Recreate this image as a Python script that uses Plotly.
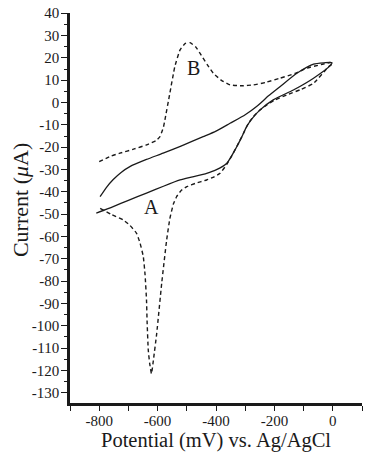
import plotly.graph_objects as go

# Solid CV loop (A): upper branch left->right, then lower branch right->left
solid_x = [-797, -775, -752, -725, -695, -638, -581, -520, -444, -400, -352, -300, -261, -220, -181, -123, -66, -30, -3,
           -9, -66, -135, -204, -249, -275, -295, -312, -329, -363, -400, -432, -480, -523, -580, -638, -700, -752, -810]
solid_y = [-42.2, -38.0, -34.5, -31.3, -28.7, -25.5, -22.7, -19.5, -15.3, -12.8, -9.3, -5.5, -1.8, 3.0, 7.1, 13.1, 17.2, 17.8, 17.9,
           16.5, 10.9, 5.6, 1.2, -3.3, -7.0, -10.8, -15.5, -19.8, -27.2, -30.2, -31.7, -33.3, -34.7, -37.5, -40.6, -43.8, -46.6, -49.5]

# Dashed CV loop (B)
dash_x = [-800, -760, -729, -680, -638, -605, -592, -580, -575, -558, -541, -523, -505, -489, -470, -455, -430, -409,
          -380, -352, -310, -272, -230, -181, -130, -89, -40, -9, 0,
          -15, -66, -110, -158, -200, -226, -250, -272, -290, -306, -322, -341, -362, -386, -410, -432, -470, -500,
          -520, -535, -546, -558, -569, -586, -603, -614, -621, -627, -632, -636, -638, -643, -649, -660, -672, -695,
          -718, -760, -797]
dash_y = [-26.5, -24.0, -22.7, -20.8, -19.0, -17.0, -15.3, -11.0, -7.8, 4.2, 16.1, 23.6, 26.5, 26.8, 25.0, 22.1, 17.0, 13.1,
          9.8, 7.9, 7.5, 7.9, 9.0, 10.9, 13.0, 15.4, 17.0, 17.9, 17.5,
          16.0, 8.6, 5.8, 3.4, 1.0, -1.1, -3.4, -6.3, -9.5, -13.8, -18.0, -22.7, -27.5, -31.7, -33.5, -34.7, -36.2, -37.7,
          -39.5, -42.2, -45.5, -52.0, -61.6, -81.0, -103.4, -115.0, -121.5, -117.0, -110.8, -98.0, -88.4, -77.0, -69.0, -63.0, -58.6, -55.0,
          -52.6, -50.0, -47.4]

peak_labels = ["A", "B"]
peak_label_x = [-620, -478]
peak_label_y = [-46.6, 15.4]

x_tick_vals = [-800, -600, -400, -200, 0]
x_tick_text = ["-800", "-600", "-400", "-200", "0"]
y_tick_vals = list(range(-130, 41, 10))
y_tick_text = [str(v) for v in y_tick_vals]

FONT = "Liberation Serif"
INK = "#1a1a1a"

fig = go.Figure()
fig.add_trace(go.Scatter(x=solid_x, y=solid_y, mode="lines", line_shape="spline",
                         line=dict(color=INK, width=1.3, smoothing=0.6), showlegend=False))
fig.add_trace(go.Scatter(x=dash_x, y=dash_y, mode="lines", line_shape="spline",
                         line=dict(color=INK, width=1.4, dash="4px,3px", smoothing=0.4), showlegend=False))

for t, x, y in zip(peak_labels, peak_label_x, peak_label_y):
    fig.add_annotation(x=x, y=y, text=t, showarrow=False, xanchor="center", yanchor="middle",
                       font=dict(family=FONT, size=20, color=INK))

fig.add_annotation(xref="paper", yref="paper", x=-0.171, y=0.5205, text="Current (<i>μ</i>A)",
                   xanchor="center", yanchor="middle",
                   textangle=-90, showarrow=False, font=dict(family=FONT, size=22, color=INK))
fig.add_annotation(xref="paper", yref="paper", x=0.5, y=-0.095, text="Potential (mV) vs. Ag/AgCl",
                   xanchor="center", yanchor="middle",
                   showarrow=False, font=dict(family=FONT, size=20.5, color=INK))

fig.update_layout(
    width=378, height=459,
    margin=dict(l=70, r=16, t=13, b=56, autoexpand=False),
    paper_bgcolor="white", plot_bgcolor="white",
    font=dict(family=FONT, color=INK),
    hovermode=False,
    xaxis=dict(range=[-900, 100], tickvals=x_tick_vals, ticktext=x_tick_text, ticks="outside", ticklen=5, tickwidth=1.2,
               tickcolor=INK, showline=True, linecolor=INK, linewidth=2.5, automargin=False,
               showgrid=False, zeroline=False, tickfont=dict(size=15, family=FONT, color=INK),
               ticklabelstandoff=-3, ticklabeloverflow="allow",
               minor=dict(dtick=100, ticks="outside", ticklen=5, tickwidth=1.2, tickcolor=INK, showgrid=False)),
    yaxis=dict(range=[-134.6, 40.1], tickvals=y_tick_vals, ticktext=y_tick_text, ticks="outside", ticklen=6, tickwidth=1.2,
               tickcolor=INK, showline=True, linecolor=INK, linewidth=2.5, automargin=False,
               showgrid=False, zeroline=False, tickfont=dict(size=15, family=FONT, color=INK),
               ticklabelstandoff=-1, ticklabeloverflow="allow",
               minor=dict(dtick=5, ticks="outside", ticklen=3, tickwidth=1, tickcolor=INK, showgrid=False)),
)

# remove the page's default 8px body margin so the figure sits at the window origin
fig.write_html("out.html", config={"displayModeBar": False},
               post_script="document.body.style.margin='0px';")
